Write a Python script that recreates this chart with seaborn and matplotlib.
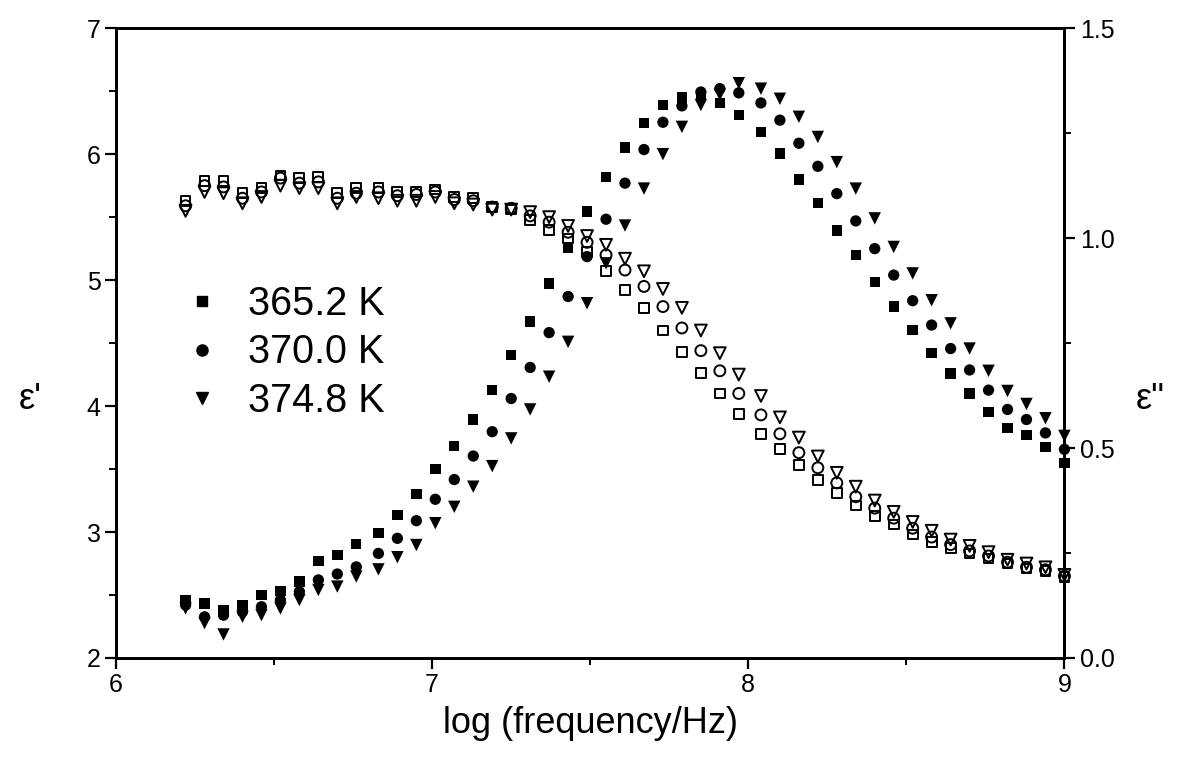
import numpy as np
import pandas as pd
import matplotlib
matplotlib.use("Agg")
import matplotlib.pyplot as plt
import seaborn as sns
from matplotlib.lines import Line2D
from matplotlib.ticker import MultipleLocator

# ---------------- data ----------------
log_freq = [6.22, 6.28, 6.34, 6.40, 6.46, 6.52, 6.58, 6.64, 6.70, 6.76,
            6.83, 6.89, 6.95, 7.01, 7.07, 7.13, 7.19, 7.25, 7.31, 7.37,
            7.43, 7.49, 7.55, 7.61, 7.67, 7.73, 7.79, 7.85, 7.91, 7.97,
            8.04, 8.10, 8.16, 8.22, 8.28, 8.34, 8.40, 8.46, 8.52, 8.58,
            8.64, 8.70, 8.76, 8.82, 8.88, 8.94, 9.00]

temperatures = ["365.2 K", "370.0 K", "374.8 K"]

# real part eps' (open symbols, left axis)
eps1_365 = [5.63, 5.79, 5.79, 5.69, 5.73, 5.83, 5.81, 5.82, 5.69, 5.73,
            5.73, 5.70, 5.70, 5.72, 5.66, 5.65, 5.58, 5.56, 5.48, 5.40,
            5.33, 5.22, 5.07, 4.92, 4.78, 4.60, 4.43, 4.26, 4.10, 3.94,
            3.78, 3.66, 3.53, 3.41, 3.31, 3.21, 3.13, 3.06, 2.98, 2.92,
            2.87, 2.83, 2.79, 2.75, 2.71, 2.69, 2.64]
eps1_370 = [5.59, 5.75, 5.74, 5.65, 5.70, 5.81, 5.77, 5.78, 5.65, 5.69,
            5.70, 5.67, 5.68, 5.70, 5.64, 5.63, 5.58, 5.57, 5.51, 5.46,
            5.38, 5.30, 5.20, 5.08, 4.95, 4.79, 4.62, 4.44, 4.28, 4.10,
            3.93, 3.78, 3.63, 3.51, 3.39, 3.28, 3.19, 3.11, 3.03, 2.96,
            2.90, 2.85, 2.81, 2.76, 2.72, 2.70, 2.65]
eps1_375 = [5.55, 5.70, 5.69, 5.61, 5.66, 5.75, 5.73, 5.73, 5.61, 5.66,
            5.65, 5.63, 5.63, 5.66, 5.61, 5.60, 5.56, 5.56, 5.54, 5.50,
            5.43, 5.35, 5.28, 5.17, 5.07, 4.93, 4.78, 4.60, 4.42, 4.25,
            4.08, 3.91, 3.75, 3.60, 3.47, 3.36, 3.25, 3.16, 3.08, 3.01,
            2.94, 2.89, 2.84, 2.78, 2.75, 2.72, 2.66]

# imaginary part eps'' (filled symbols, right axis)
eps2_365 = [0.138, 0.130, 0.114, 0.126, 0.150, 0.160, 0.182, 0.231, 0.245, 0.271,
            0.298, 0.340, 0.390, 0.450, 0.505, 0.568, 0.638, 0.721, 0.801, 0.892,
            0.977, 1.063, 1.145, 1.216, 1.274, 1.317, 1.335, 1.336, 1.322, 1.293,
            1.253, 1.202, 1.140, 1.083, 1.018, 0.960, 0.896, 0.837, 0.781, 0.727,
            0.678, 0.630, 0.586, 0.548, 0.531, 0.503, 0.465]
eps2_370 = [0.126, 0.098, 0.102, 0.110, 0.122, 0.138, 0.158, 0.186, 0.200, 0.217,
            0.249, 0.285, 0.327, 0.378, 0.425, 0.481, 0.539, 0.618, 0.692, 0.775,
            0.861, 0.956, 1.045, 1.131, 1.211, 1.276, 1.315, 1.348, 1.356, 1.346,
            1.322, 1.281, 1.226, 1.171, 1.106, 1.041, 0.975, 0.912, 0.851, 0.793,
            0.737, 0.686, 0.638, 0.592, 0.568, 0.536, 0.497]
eps2_375 = [0.118, 0.083, 0.056, 0.098, 0.102, 0.118, 0.138, 0.162, 0.170, 0.194,
            0.211, 0.240, 0.269, 0.321, 0.360, 0.408, 0.457, 0.523, 0.592, 0.670,
            0.753, 0.845, 0.940, 1.030, 1.118, 1.200, 1.265, 1.317, 1.342, 1.369,
            1.356, 1.332, 1.289, 1.241, 1.181, 1.118, 1.047, 0.979, 0.916, 0.852,
            0.797, 0.737, 0.684, 0.636, 0.605, 0.571, 0.529]

x_ticks = [6, 7, 8, 9]
left_ticks = [2, 3, 4, 5, 6, 7]
right_ticks = [0.0, 0.5, 1.0, 1.5]

# ---------------- styling ----------------
sns.set_style("ticks")
plt.rcParams["font.family"] = ["Liberation Sans", "DejaVu Sans"]
plt.rcParams["text.color"] = "black"
plt.rcParams["axes.labelcolor"] = "black"
plt.rcParams["xtick.color"] = "black"
plt.rcParams["ytick.color"] = "black"

fig = plt.figure(figsize=(11.84, 7.62), dpi=100)
ax = fig.add_axes([0.098, 0.1365, 0.801, 0.8265])
ax2 = ax.twinx()

markers = ["s", "o", "v"]
open_sizes = [50, 62, 72]
fill_sizes = [56, 66, 80]
eps1 = [eps1_365, eps1_370, eps1_375]
eps2 = [eps2_365, eps2_370, eps2_375]

for m, s, y in zip(markers, open_sizes, eps1):
    sns.scatterplot(x=log_freq, y=y, ax=ax, marker=m, s=s,
                    facecolor="none", edgecolor="black", linewidth=1.4,
                    clip_on=False, zorder=3)

for m, s, y in zip(markers, fill_sizes, eps2):
    sns.scatterplot(x=log_freq, y=y, ax=ax2, marker=m, s=s,
                    color="black", edgecolor="none", linewidth=0,
                    clip_on=False, zorder=3)

ax.set_xlim(6, 9)
ax.set_ylim(2, 7)
ax2.set_ylim(0, 1.5)

ax.set_xticks(x_ticks)
ax.set_xticklabels([str(v) for v in x_ticks])
ax.set_yticks(left_ticks)
ax.set_yticklabels([str(v) for v in left_ticks])
ax2.set_yticks(right_ticks)
ax2.set_yticklabels([f"{v:.1f}" for v in right_ticks])
ax.xaxis.set_minor_locator(MultipleLocator(0.5))
ax.yaxis.set_minor_locator(MultipleLocator(0.5))
ax2.yaxis.set_minor_locator(MultipleLocator(0.25))

for a in (ax, ax2):
    for sp in a.spines.values():
        sp.set_visible(True)
        sp.set_linewidth(2.0)
        sp.set_color("black")
    a.tick_params(which="major", direction="out", length=8, width=1.6,
                  labelsize=18, colors="black", pad=3)
    a.tick_params(which="minor", direction="out", length=5, width=1.4,
                  colors="black")
ax2.tick_params(axis="y", which="both", left=False, right=True)
ax.tick_params(axis="y", which="both", right=False)

ax.set_xlabel("log (frequency/Hz)", fontsize=26, labelpad=6, color="black")
ax.set_ylabel("ε'", fontsize=26, rotation=0, ha="center", va="center",
              color="black")
ax.yaxis.set_label_coords(-0.09, 0.41)
ax2.set_ylabel('ε"', fontsize=26, rotation=0, ha="center", va="center",
               color="black")
ax2.yaxis.set_label_coords(1.09, 0.41)

handles = [Line2D([], [], marker=m, color="black", linestyle="none",
                  markersize=ms) for m, ms in zip(markers, [7.5, 8.0, 8.5])]
leg = ax.legend(handles, temperatures, loc="upper left",
                bbox_to_anchor=(0.071, 0.592), frameon=False, fontsize=28.5,
                handlelength=0.95, handletextpad=0.68, labelspacing=0.26,
                borderpad=0, borderaxespad=0)
for t in leg.get_texts():
    t.set_color("black")

fig.savefig("out.png", dpi=100, facecolor="white")
